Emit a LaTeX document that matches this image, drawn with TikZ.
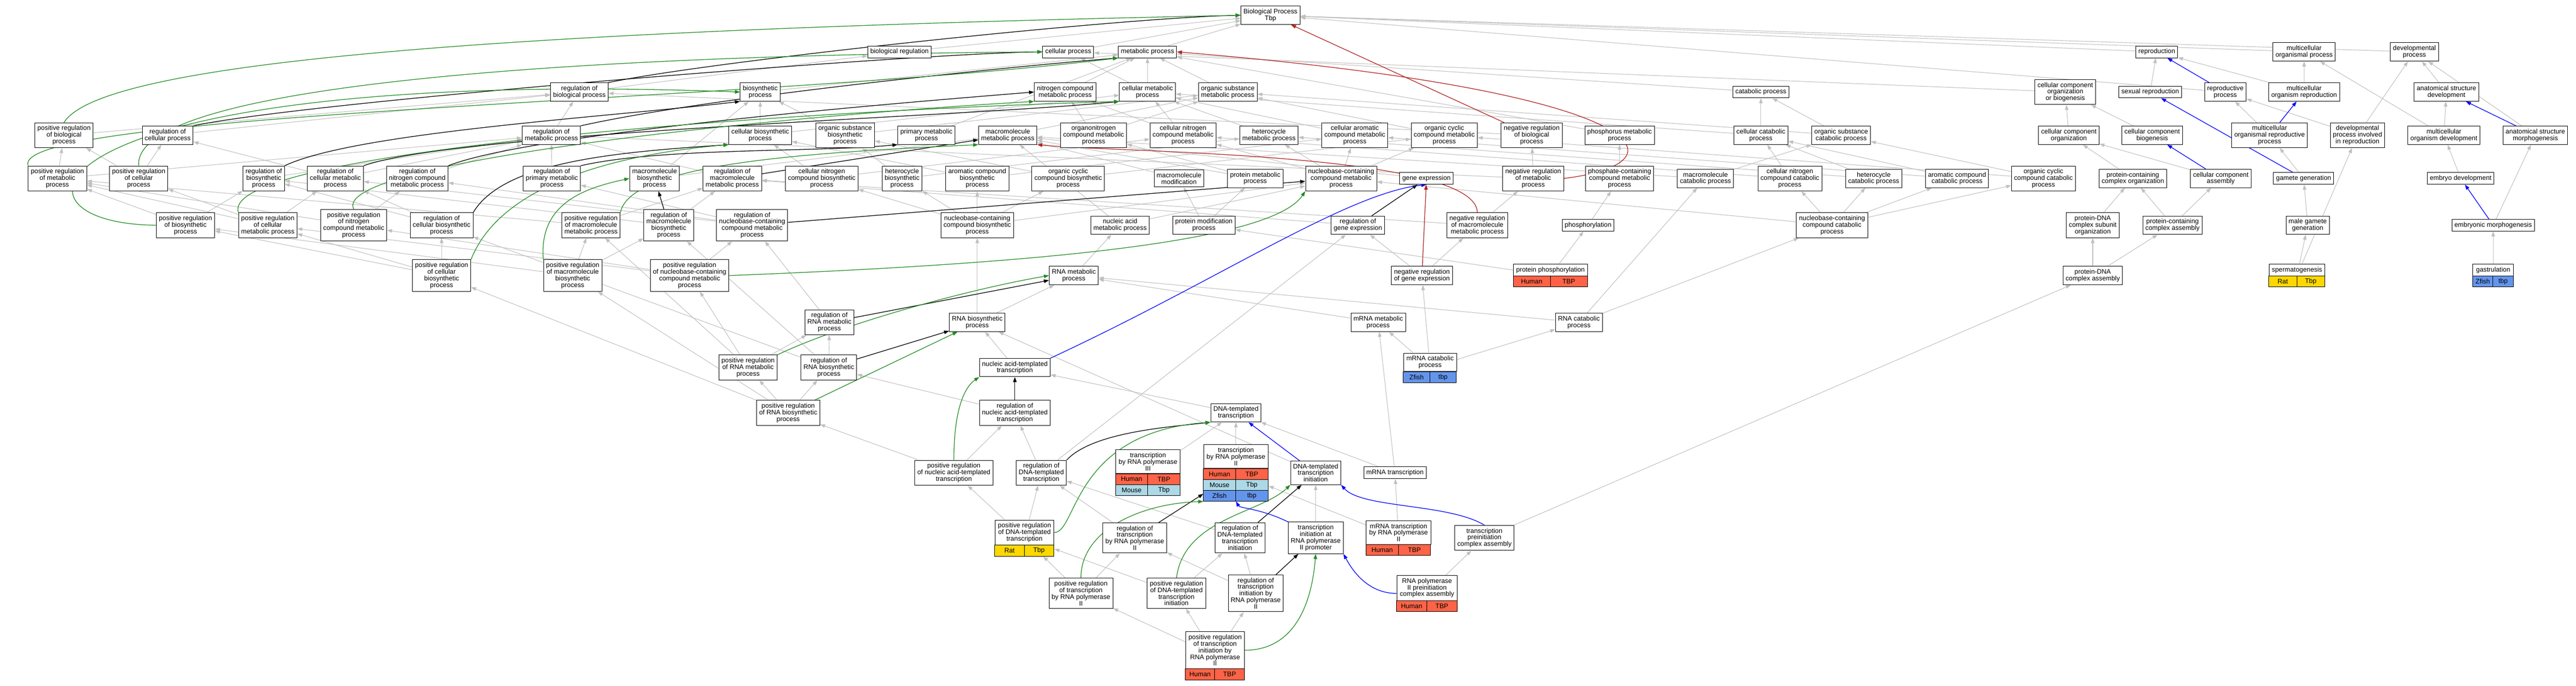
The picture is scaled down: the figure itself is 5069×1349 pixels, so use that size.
\documentclass[tikz,border=0pt]{standalone}
\usepackage{fontspec}
\setmainfont{Liberation Sans}
\usetikzlibrary{arrows.meta,fit}
\definecolor{humcol}{HTML}{FF6347}
\definecolor{moucol}{HTML}{ADD8E6}
\definecolor{zfcol}{HTML}{6495ED}
\definecolor{ratcol}{HTML}{FFD700}
\definecolor{isacol}{HTML}{C0C0C0}
\definecolor{poscol}{HTML}{228B22}
\definecolor{negcol}{HTML}{B22222}
\definecolor{partcol}{HTML}{0000FF}
\pgfdeclarelayer{background}
\pgfsetlayers{background,main}

\begin{document}
\begin{tikzpicture}[x=1pt,y=-1pt,
		box/.style={draw,fill=white,line width=1pt,align=center,inner xsep=5pt,inner ysep=5.5pt,font=\fontsize{13}{13}\selectfont},
		cell/.style={draw,line width=1pt,inner sep=1pt,outer sep=0pt,minimum height=21.5pt,anchor=north west,font=\fontsize{13}{13}\selectfont},
		group/.style={inner sep=0pt},
		isa/.style={draw=isacol,line width=1.1pt,-{Triangle[length=10pt,width=7pt]}},
		regl/.style={draw=black,line width=1.3pt,-{Triangle[length=10pt,width=7pt]}},
		posr/.style={draw=poscol,line width=1.3pt,-{Triangle[length=10pt,width=7pt]}},
		negr/.style={draw=negcol,line width=1.3pt,-{Triangle[length=10pt,width=7pt]}},
		partof/.style={draw=partcol,line width=1.3pt,-{Triangle[length=10pt,width=7pt]}}
		]
		\useasboundingbox (0,0) rectangle (5069,1349);

		\node[box] (bp) at (2500,30) {Biological Process\\Tbp};

		\node[box] (breg) at (1770,102) {biological regulation};
		\node[box] (cellp) at (2102,102) {cellular process};
		\node[box] (metp) at (2258,102) {metabolic process};
		\node[box] (repro) at (4244,102) {reproduction};
		\node[box] (mcop) at (4534,102) {multicellular\\organismal process};
		\node[box] (devp) at (4751,102) {developmental\\process};

		\node[box] (regbp) at (1140,181) {regulation of\\biological process};
		\node[box] (biosyn) at (1496,181) {biosynthetic\\process};
		\node[box] (ncmp) at (2096,181) {nitrogen compound\\metabolic process};
		\node[box] (cmp) at (2258,181) {cellular metabolic\\process};
		\node[box] (osmp) at (2416,181) {organic substance\\metabolic process};
		\node[box] (catp) at (3465,181) {catabolic process};
		\node[box] (ccob) at (4064,181) {cellular component\\organization\\or biogenesis};
		\node[box] (sexrep) at (4231,181) {sexual reproduction};
		\node[box] (repp) at (4379,181) {reproductive\\process};
		\node[box] (mcorep) at (4534,181) {multicellular\\organism reproduction};
		\node[box] (asdev) at (4814,181) {anatomical structure\\development};

		\node[box] (prbp) at (126,266) {positive regulation\\of biological\\process};
		\node[box] (regcp) at (330,266) {regulation of\\cellular process};
		\node[box] (regmp) at (1085,266) {regulation of\\metabolic process};
		\node[box] (cbp) at (1496,266) {cellular biosynthetic\\process};
		\node[box] (osbp) at (1663,266) {organic substance\\biosynthetic\\process};
		\node[box] (pmp) at (1823,266) {primary metabolic\\process};
		\node[box] (mmp) at (1983,266) {macromolecule\\metabolic process};
		\node[box] (oncmp) at (2152,266) {organonitrogen\\compound metabolic\\process};
		\node[box] (cncmp) at (2328,266) {cellular nitrogen\\compound metabolic\\process};
		\node[box] (hmp) at (2497,266) {heterocycle\\metabolic process};
		\node[box] (camp) at (2666,266) {cellular aromatic\\compound metabolic\\process};
		\node[box] (occmp) at (2842,266) {organic cyclic\\compound metabolic\\process};
		\node[box] (nrbp) at (3014,266) {negative regulation\\of biological\\process};
		\node[box] (phmp) at (3187,266) {phosphorus metabolic\\process};
		\node[box] (ccatp) at (3465,266) {cellular catabolic\\process};
		\node[box] (oscp) at (3623,266) {organic substance\\catabolic process};
		\node[box] (cco) at (4071,266) {cellular component\\organization};
		\node[box] (ccb) at (4235,266) {cellular component\\biogenesis};
		\node[box] (mcrp) at (4466,266) {multicellular\\organismal reproductive\\process};
		\node[box] (dpir) at (4639,266) {developmental\\process involved\\in reproduction};
		\node[box] (mcod) at (4809,266) {multicellular\\organism development};
		\node[box] (asm) at (4989,266) {anatomical structure\\morphogenesis};

		\node[box] (prmp) at (113,351) {positive regulation\\of metabolic\\process};
		\node[box] (prcp) at (273,351) {positive regulation\\of cellular\\process};
		\node[box] (regbsp) at (519,351) {regulation of\\biosynthetic\\process};
		\node[box] (regcmp) at (660,351) {regulation of\\cellular metabolic\\process};
		\node[box] (regncmp) at (821,351) {regulation of\\nitrogen compound\\metabolic process};
		\node[box] (regpmp) at (1086,351) {regulation of\\primary metabolic\\process};
		\node[box] (mbp) at (1288,351) {macromolecule\\biosynthetic\\process};
		\node[box] (regmmp) at (1441,351) {regulation of\\macromolecule\\metabolic process};
		\node[box] (cncbp) at (1617,351) {cellular nitrogen\\compound biosynthetic\\process};
		\node[box] (hbp) at (1775,351) {heterocycle\\biosynthetic\\process};
		\node[box] (acbp) at (1923,351) {aromatic compound\\biosynthetic\\process};
		\node[box] (occbp) at (2102,351) {organic cyclic\\compound biosynthetic\\process};
		\node[box] (mmod) at (2320,351) {macromolecule\\modification};
		\node[box] (protmp) at (2470,351) {protein metabolic\\process};
		\node[box] (nbcmp) at (2639,351) {nucleobase-containing\\compound metabolic\\process};
		\node[box] (genex) at (2807,351) {gene expression};
		\node[box] (nrmp) at (3017,351) {negative regulation\\of metabolic\\process};
		\node[box] (pccmp) at (3187,351) {phosphate-containing\\compound metabolic\\process};
		\node[box] (mcatp) at (3356,351) {macromolecule\\catabolic process};
		\node[box] (cnccp) at (3522,351) {cellular nitrogen\\compound catabolic\\process};
		\node[box] (hcatp) at (3687,351) {heterocycle\\catabolic process};
		\node[box] (accp) at (3851,351) {aromatic compound\\catabolic process};
		\node[box] (occcp) at (4021,351) {organic cyclic\\compound catabolic\\process};
		\node[box] (pcco) at (4197,351) {protein-containing\\complex organization};
		\node[box] (cca) at (4370,351) {cellular component\\assembly};
		\node[box] (gamgen) at (4533,351) {gamete generation};
		\node[box] (embdev) at (4842,351) {embryo development};

		\node[box] (prbsp) at (365,443) {positive regulation\\of biosynthetic\\process};
		\node[box] (prcmp) at (527,443) {positive regulation\\of cellular\\metabolic process};
		\node[box] (prncmp) at (696,443) {positive regulation\\of nitrogen\\compound metabolic\\process};
		\node[box] (regcbp) at (869,443) {regulation of\\cellular biosynthetic\\process};
		\node[box] (prmmp) at (1163,443) {positive regulation\\of macromolecule\\metabolic process};
		\node[box] (regmbp) at (1316,443) {regulation of\\macromolecule\\biosynthetic\\process};
		\node[box] (regnbmp) at (1480,443) {regulation of\\nucleobase-containing\\compound metabolic\\process};
		\node[box] (nbcbp) at (1923,443) {nucleobase-containing\\compound biosynthetic\\process};
		\node[box] (namp) at (2204,443) {nucleic acid\\metabolic process};
		\node[box] (pmodp) at (2369,443) {protein modification\\process};
		\node[box] (reggex) at (2672,443) {regulation of\\gene expression};
		\node[box] (nrmmp) at (2907,443) {negative regulation\\of macromolecule\\metabolic process};
		\node[box] (phos) at (3125,443) {phosphorylation};
		\node[box] (nbccp) at (3605,443) {nucleobase-containing\\compound catabolic\\process};
		\node[box] (pdnaso) at (4118,443) {protein-DNA\\complex subunit\\organization};
		\node[box] (pcca) at (4275,443) {protein-containing\\complex assembly};
		\node[box] (mgg) at (4541,443) {male gamete\\generation};
		\node[box] (embmor) at (4906,443) {embryonic morphogenesis};

		\node[box] (prcbp) at (869,542) {positive regulation\\of cellular\\biosynthetic\\process};
		\node[box] (prmbp) at (1127,542) {positive regulation\\of macromolecule\\biosynthetic\\process};
		\node[box] (prnbmp) at (1357,542) {positive regulation\\of nucleobase-containing\\compound metabolic\\process};
		\node[box] (rnamp) at (2113,542) {RNA metabolic\\process};
		\node[box] (nrgex) at (2798,542) {negative regulation\\of gene expression};
		\node[box,minimum width=146pt] (protphosh) at (3051,531) {protein phosphorylation};
		\node[cell,fill=humcol,minimum width=73pt] (protphosa) at (protphosh.south west) {Human};
		\node[cell,fill=humcol,minimum width=73pt] (protphosb) at (protphosa.north east) {TBP};
		\node[group,fit=(protphosh)(protphosa)(protphosb)] (protphos) {};
		\node[box] (pdnaca) at (4118,542) {protein-DNA\\complex assembly};
		\node[box,minimum width=110pt] (spermh) at (4520,531) {spermatogenesis};
		\node[cell,fill=ratcol,minimum width=55pt] (sperma) at (spermh.south west) {Rat};
		\node[cell,fill=ratcol,minimum width=55pt] (spermb) at (sperma.north east) {Tbp};
		\node[group,fit=(spermh)(sperma)(spermb)] (sperm) {};
		\node[box,minimum width=80pt] (gastrh) at (4906,531) {gastrulation};
		\node[cell,fill=zfcol,minimum width=40pt] (gastra) at (gastrh.south west) {Zfish};
		\node[cell,fill=zfcol,minimum width=40pt] (gastrb) at (gastra.north east) {tbp};
		\node[group,fit=(gastrh)(gastra)(gastrb)] (gastr) {};

		\node[box] (regrnamp) at (1632,634) {regulation of\\RNA metabolic\\process};
		\node[box] (rnabp) at (1923,634) {RNA biosynthetic\\process};
		\node[box] (mrnamp) at (2712,634) {mRNA metabolic\\process};
		\node[box] (rnacat) at (3107,634) {RNA catabolic\\process};

		\node[box] (prrnamp) at (1472,723) {positive regulation\\of RNA metabolic\\process};
		\node[box] (regrnabp) at (1631,723) {regulation of\\RNA biosynthetic\\process};
		\node[box] (natt) at (1997,723) {nucleic acid-templated\\transcription};
		\node[box,minimum width=104pt] (mrnacath) at (2814,712.5) {mRNA catabolic\\process};
		\node[cell,fill=zfcol,minimum width=52pt] (mrnacata) at (mrnacath.south west) {Zfish};
		\node[cell,fill=zfcol,minimum width=52pt] (mrnacatb) at (mrnacata.north east) {tbp};
		\node[group,fit=(mrnacath)(mrnacata)(mrnacatb)] (mrnacat) {};

		\node[box] (prrnabp) at (1551,812) {positive regulation\\of RNA biosynthetic\\process};
		\node[box] (regnatt) at (1997,812) {regulation of\\nucleic acid-templated\\transcription};
		\node[box] (dnatt) at (2432,812) {DNA-templated\\transcription};

		\node[box] (prnatt) at (1877,930) {positive regulation\\of nucleic acid-templated\\transcription};
		\node[box] (regdnatt) at (2049,930) {regulation of\\DNA-templated\\transcription};
		\node[box,minimum width=127pt] (tpol3h) at (2259,908) {transcription\\by RNA polymerase\\III};
		\node[cell,fill=humcol,minimum width=63.5pt] (tpol3a) at (tpol3h.south west) {Human};
		\node[cell,fill=humcol,minimum width=63.5pt] (tpol3b) at (tpol3a.north east) {TBP};
		\node[cell,fill=moucol,minimum width=63.5pt] (tpol3c) at (tpol3a.south west) {Mouse};
		\node[cell,fill=moucol,minimum width=63.5pt] (tpol3d) at (tpol3c.north east) {Tbp};
		\node[group,fit=(tpol3h)(tpol3c)(tpol3d)] (tpol3) {};
		\node[box,minimum width=127pt] (tpol2h) at (2432,898) {transcription\\by RNA polymerase\\II};
		\node[cell,fill=humcol,minimum width=63.5pt] (tpol2a) at (tpol2h.south west) {Human};
		\node[cell,fill=humcol,minimum width=63.5pt] (tpol2b) at (tpol2a.north east) {TBP};
		\node[cell,fill=moucol,minimum width=63.5pt] (tpol2c) at (tpol2a.south west) {Mouse};
		\node[cell,fill=moucol,minimum width=63.5pt] (tpol2d) at (tpol2c.north east) {Tbp};
		\node[cell,fill=zfcol,minimum width=63.5pt] (tpol2e) at (tpol2c.south west) {Zfish};
		\node[cell,fill=zfcol,minimum width=63.5pt] (tpol2f) at (tpol2e.north east) {tbp};
		\node[group,fit=(tpol2h)(tpol2e)(tpol2f)] (tpol2) {};
		\node[box] (dnatti) at (2589,930) {DNA-templated\\transcription\\initiation};
		\node[box] (mrnat) at (2745,930) {mRNA transcription};

		\node[box,minimum width=116pt] (prdnatth) at (2016,1047.5) {positive regulation\\of DNA-templated\\transcription};
		\node[cell,fill=ratcol,minimum width=58pt] (prdnatta) at (prdnatth.south west) {Rat};
		\node[cell,fill=ratcol,minimum width=58pt] (prdnattb) at (prdnatta.north east) {Tbp};
		\node[group,fit=(prdnatth)(prdnatta)(prdnattb)] (prdnatt) {};
		\node[box] (regtpol2) at (2233,1058) {regulation of\\transcription\\by RNA polymerase\\II};
		\node[box] (regdnatti) at (2440,1058) {regulation of\\DNA-templated\\transcription\\initiation};
		\node[box] (tiapol2) at (2589,1058) {transcription\\initiation at\\RNA polymerase\\II promoter};
		\node[box,minimum width=127pt] (mrnatpol2h) at (2752,1047.5) {mRNA transcription\\by RNA polymerase\\II};
		\node[cell,fill=humcol,minimum width=63.5pt] (mrnatpol2a) at (mrnatpol2h.south west) {Human};
		\node[cell,fill=humcol,minimum width=63.5pt] (mrnatpol2b) at (mrnatpol2a.north east) {TBP};
		\node[group,fit=(mrnatpol2h)(mrnatpol2a)(mrnatpol2b)] (mrnatpol2) {};
		\node[box] (tpica) at (2921,1058) {transcription\\preinitiation\\complex assembly};

		\node[box] (prtpol2) at (2127,1167) {positive regulation\\of transcription\\by RNA polymerase\\II};
		\node[box] (prdnatti) at (2315,1167) {positive regulation\\of DNA-templated\\transcription\\initiation};
		\node[box] (regtipol2) at (2471,1167) {regulation of\\transcription\\initiation by\\RNA polymerase\\II};
		\node[box,minimum width=119pt] (pol2picah) at (2808,1156.5) {RNA polymerase\\II preinitiation\\complex assembly};
		\node[cell,fill=humcol,minimum width=59.5pt] (pol2picaa) at (pol2picah.south west) {Human};
		\node[cell,fill=humcol,minimum width=59.5pt] (pol2picab) at (pol2picaa.north east) {TBP};
		\node[group,fit=(pol2picah)(pol2picaa)(pol2picab)] (pol2pica) {};

		\node[box,minimum width=116pt] (prtipol2h) at (2391,1279) {positive regulation\\of transcription\\initiation by\\RNA polymerase\\II};
		\node[cell,fill=humcol,minimum width=58pt] (prtipol2a) at (prtipol2h.south west) {Human};
		\node[cell,fill=humcol,minimum width=58pt] (prtipol2b) at (prtipol2a.north east) {TBP};
		\node[group,fit=(prtipol2h)(prtipol2a)(prtipol2b)] (prtipol2) {};

		\begin{pgfonlayer}{background}
		\draw[isa] (breg) -- (bp); \draw[isa] (cellp) -- (bp); \draw[isa] (metp) -- (bp);
		\draw[isa] (repro) -- (bp); \draw[isa] (mcop) -- (bp); \draw[isa] (devp) -- (bp);
		\draw[isa] (repp) -- (bp); \draw[isa] (regbp) -- (breg);
		\draw[isa] (biosyn) -- (metp); \draw[isa] (ncmp) -- (metp); \draw[isa] (cmp) -- (metp);
		\draw[isa] (cmp) -- (cellp); \draw[isa] (osmp) -- (metp); \draw[isa] (catp) -- (metp);
		\draw[isa] (phmp) -- (metp); \draw[isa] (pmp) -- (metp); \draw[isa] (ccob) -- (cellp);
		\draw[isa] (sexrep) -- (repro); \draw[isa] (mcorep) -- (repro); \draw[isa] (mcorep) -- (mcop);
		\draw[isa] (asdev) -- (devp);
		\draw[isa] (prbp) -- (regbp); \draw[isa] (regcp) -- (regbp); \draw[isa] (regmp) -- (regbp);
		\draw[isa] (nrbp) -- (regbp);
		\draw[isa] (cbp) -- (biosyn); \draw[isa] (cbp) -- (cmp); \draw[isa] (osbp) -- (biosyn);
		\draw[isa] (osbp) -- (osmp); \draw[isa] (mmp) -- (osmp); \draw[isa] (oncmp) -- (ncmp);
		\draw[isa] (oncmp) -- (osmp); \draw[isa] (cncmp) -- (ncmp); \draw[isa] (cncmp) -- (cmp);
		\draw[isa] (hmp) -- (cmp); \draw[isa] (camp) -- (cmp); \draw[isa] (occmp) -- (osmp);
		\draw[isa] (ccatp) -- (catp); \draw[isa] (ccatp) -- (cmp); \draw[isa] (oscp) -- (catp);
		\draw[isa] (oscp) -- (osmp);
		\draw[isa] (cco) -- (ccob); \draw[isa] (ccb) -- (ccob); \draw[isa] (mcrp) -- (repp);
		\draw[isa] (dpir) -- (repp); \draw[isa] (dpir) -- (devp); \draw[isa] (mcod) -- (mcop);
		\draw[isa] (mcod) -- (asdev); \draw[isa] (asm) -- (devp);
		\draw[isa] (prmp) -- (regmp); \draw[isa] (prmp) -- (prbp); \draw[isa] (prcp) -- (regcp);
		\draw[isa] (prcp) -- (prbp); \draw[isa] (regbsp) -- (regmp); \draw[isa] (regcmp) -- (regmp);
		\draw[isa] (regcmp) -- (regcp); \draw[isa] (regncmp) -- (regmp); \draw[isa] (regpmp) -- (regmp);
		\draw[isa] (regmmp) -- (regmp); \draw[isa] (nrmp) -- (regmp); \draw[isa] (nrmp) -- (nrbp);
		\draw[isa] (mbp) -- (mmp); \draw[isa] (mbp) -- (biosyn);
		\draw[isa] (cncbp) -- (cncmp); \draw[isa] (cncbp) -- (cbp); \draw[isa] (hbp) -- (hmp);
		\draw[isa] (hbp) -- (osbp); \draw[isa] (acbp) -- (camp); \draw[isa] (acbp) -- (cbp);
		\draw[isa] (occbp) -- (occmp); \draw[isa] (occbp) -- (osbp);
		\draw[isa] (mmod) -- (mmp); \draw[isa] (protmp) -- (mmp); \draw[isa] (protmp) -- (oncmp);
		\draw[isa] (nbcmp) -- (cncmp); \draw[isa] (nbcmp) -- (hmp); \draw[isa] (nbcmp) -- (camp);
		\draw[isa] (nbcmp) -- (occmp); \draw[isa] (genex) -- (mmp); \draw[isa] (pccmp) -- (phmp);
		\draw[isa] (mcatp) -- (mmp); \draw[isa] (mcatp) -- (oscp); \draw[isa] (cnccp) -- (ccatp);
		\draw[isa] (cnccp) -- (cncmp); \draw[isa] (hcatp) -- (ccatp); \draw[isa] (hcatp) -- (hmp);
		\draw[isa] (accp) -- (ccatp); \draw[isa] (accp) -- (camp); \draw[isa] (occcp) -- (oscp);
		\draw[isa] (occcp) -- (occmp);
		\draw[isa] (pcco) -- (cco); \draw[isa] (cca) -- (cco); \draw[isa] (gamgen) -- (mcrp);
		\draw[isa] (embdev) -- (mcod);
		\draw[isa] (prbsp) -- (regbsp); \draw[isa] (prbsp) -- (prmp); \draw[isa] (prcmp) -- (regcmp);
		\draw[isa] (prcmp) -- (prmp); \draw[isa] (prcmp) -- (prcp); \draw[isa] (prncmp) -- (regncmp);
		\draw[isa] (prncmp) -- (prmp); \draw[isa] (regcbp) -- (regbsp); \draw[isa] (regcbp) -- (regcmp);
		\draw[isa] (prmmp) -- (regmmp); \draw[isa] (prmmp) -- (prmp); \draw[isa] (regmbp) -- (regmmp);
		\draw[isa] (regmbp) -- (regbsp); \draw[isa] (regnbmp) -- (regcmp); \draw[isa] (regnbmp) -- (regncmp);
		\draw[isa] (regnbmp) -- (regpmp);
		\draw[isa] (nbcbp) -- (nbcmp); \draw[isa] (nbcbp) -- (cncbp); \draw[isa] (nbcbp) -- (hbp);
		\draw[isa] (nbcbp) -- (acbp); \draw[isa] (nbcbp) -- (occbp);
		\draw[isa] (namp) -- (nbcmp); \draw[isa] (namp) -- (mmp); \draw[isa] (pmodp) -- (mmod);
		\draw[isa] (pmodp) -- (protmp); \draw[isa] (reggex) -- (regmmp); \draw[isa] (nrmmp) -- (regmmp);
		\draw[isa] (nrmmp) -- (nrmp); \draw[isa] (phos) -- (pccmp);
		\draw[isa] (nbccp) -- (nbcmp); \draw[isa] (nbccp) -- (cnccp); \draw[isa] (nbccp) -- (hcatp);
		\draw[isa] (nbccp) -- (accp); \draw[isa] (nbccp) -- (occcp);
		\draw[isa] (pdnaso) -- (pcco); \draw[isa] (pcca) -- (pcco); \draw[isa] (pcca) -- (cca);
		\draw[isa] (mgg) -- (gamgen); \draw[isa] (embmor) -- (asm);
		\draw[isa] (prcbp) -- (regcbp); \draw[isa] (prcbp) -- (prbsp); \draw[isa] (prcbp) -- (prcmp);
		\draw[isa] (prmbp) -- (prmmp); \draw[isa] (prmbp) -- (regmbp); \draw[isa] (prmbp) -- (prbsp);
		\draw[isa] (prnbmp) -- (regnbmp); \draw[isa] (prnbmp) -- (prcmp); \draw[isa] (prnbmp) -- (prncmp);
		\draw[isa] (rnamp) -- (namp); \draw[isa] (nrgex) -- (reggex); \draw[isa] (nrgex) -- (nrmmp);
		\draw[isa] (protphos) -- (phos); \draw[isa] (protphos) -- (pmodp);
		\draw[isa] (pdnaca) -- (pdnaso); \draw[isa] (pdnaca) -- (pcca);
		\draw[isa] (sperm) -- (mgg); \draw[isa] (sperm) -- (dpir); \draw[isa] (gastr) -- (embmor);
		\draw[isa] (regrnamp) -- (regnbmp); \draw[isa] (rnabp) -- (rnamp); \draw[isa] (rnabp) -- (nbcbp);
		\draw[isa] (mrnamp) -- (rnamp); \draw[isa] (rnacat) -- (rnamp); \draw[isa] (rnacat) -- (nbccp);
		\draw[isa] (rnacat) -- (mcatp);
		\draw[isa] (prrnamp) -- (regrnamp); \draw[isa] (prrnamp) -- (prnbmp); \draw[isa] (prrnamp) -- (prmmp);
		\draw[isa] (regrnabp) -- (regrnamp); \draw[isa] (regrnabp) -- (regmbp); \draw[isa] (regrnabp) -- (regcbp);
		\draw[isa] (natt) -- (rnabp); \draw[isa] (mrnacat) -- (mrnamp); \draw[isa] (mrnacat) -- (rnacat);
		\draw[isa] (mrnacat) -- (nrgex);
		\draw[isa] (prrnabp) -- (prrnamp); \draw[isa] (prrnabp) -- (regrnabp); \draw[isa] (prrnabp) -- (prmbp);
		\draw[isa] (prrnabp) -- (prcbp); \draw[isa] (regnatt) -- (regrnabp); \draw[isa] (dnatt) -- (natt);
		\draw[isa] (prnatt) -- (regnatt); \draw[isa] (prnatt) -- (prrnabp); \draw[isa] (regdnatt) -- (regnatt);
		\draw[isa] (regdnatt) -- (reggex); \draw[isa] (tpol3) -- (dnatt); \draw[isa] (tpol2) -- (dnatt);
		\draw[isa] (dnatti) -- (rnabp); \draw[isa] (mrnat) -- (dnatt); \draw[isa] (mrnat) -- (mrnamp);
		\draw[isa] (prdnatt) -- (regdnatt); \draw[isa] (prdnatt) -- (prnatt); \draw[isa] (regtpol2) -- (regdnatt);
		\draw[isa] (regdnatti) -- (regdnatt); \draw[isa] (tiapol2) -- (dnatti); \draw[isa] (mrnatpol2) -- (mrnat);
		\draw[isa] (mrnatpol2) -- (tpol2); \draw[isa] (tpica) -- (pdnaca);
		\draw[isa] (prtpol2) -- (regtpol2); \draw[isa] (prtpol2) -- (prdnatt); \draw[isa] (prdnatti) -- (regdnatti);
		\draw[isa] (prdnatti) -- (prdnatt); \draw[isa] (regtipol2) -- (regdnatti); \draw[isa] (regtipol2) -- (regtpol2);
		\draw[isa] (pol2pica) -- (tpica);
		\draw[isa] (prtipol2) -- (regtipol2); \draw[isa] (prtipol2) -- (prtpol2); \draw[isa] (prtipol2) -- (prdnatti);

		\draw[regl] (regbp.north east) .. controls (1400,120) and (2200,35) .. (bp.west);
		\draw[regl] (regcp.north east) .. controls (600,200) and (1800,105) .. (cellp.west);
		\draw[regl] (regmp.north east) .. controls (1400,190) and (2000,130) .. (metp.south west);
		\draw[regl] (regcmp.north east) .. controls (900,260) and (1900,230) .. (cmp.south west);
		\draw[regl] (regncmp.north east) .. controls (1050,260) and (1800,200) .. (ncmp.west);
		\draw[regl] (regbsp.north east) .. controls (700,260) and (1200,230) .. (biosyn.south west);
		\draw[regl] (regpmp.north east) .. controls (1300,290) and (1600,300) .. (pmp.south west);
		\draw[regl] (regcbp.north east) .. controls (990,320) and (1200,300) .. (cbp.south west);
		\draw[regl] (regdnatt.north east) .. controls (2150,850) and (2300,840) .. (dnatt.south west);
		\draw[regl] (regmmp) -- (mmp); \draw[regl] (regmbp) -- (mbp); \draw[regl] (regnbmp) -- (nbcmp);
		\draw[regl] (reggex) -- (genex); \draw[regl] (regrnamp) -- (rnamp); \draw[regl] (regrnabp) -- (rnabp);
		\draw[regl] (regnatt) -- (natt); \draw[regl] (regtpol2) -- (tpol2); \draw[regl] (regdnatti) -- (dnatti);
		\draw[regl] (regtipol2) -- (tiapol2);

		\draw[posr] (prbp.north) .. controls (200,120) and (1000,60) .. (bp.west);
		\draw[posr] (prcp.north) .. controls (260,180) and (1000,110) .. (cellp.west);
		\draw[posr] (prmp.north west) .. controls (20,220) and (1500,200) .. (metp.south west);
		\draw[posr] (prbsp.west) .. controls (-30,440) and (60,130) .. (biosyn.west);
		\draw[posr] (prcmp.north west) .. controls (430,300) and (1500,220) .. (cmp.south west);
		\draw[posr] (prncmp.north) .. controls (650,320) and (1500,230) .. (ncmp.south west);
		\draw[posr] (prcbp.north east) .. controls (990,350) and (1250,300) .. (cbp.south west);
		\draw[posr] (prmmp.north east) .. controls (1240,320) and (1600,300) .. (mmp.south west);
		\draw[posr] (prmbp.north west) .. controls (1060,400) and (1150,370) .. (mbp.west);
		\draw[posr] (prnbmp.east) .. controls (2000,520) and (2500,480) .. (nbcmp.south west);
		\draw[posr] (prrnamp.north east) .. controls (1650,640) and (1900,570) .. (rnamp.west);
		\draw[posr] (prrnabp) -- (rnabp);
		\draw[posr] (prnatt.north) .. controls (1877,800) and (1900,760) .. (natt.south west);
		\draw[posr] (prdnatth.east) .. controls (2120,1047) and (2110,850) .. (dnatt.south west);
		\draw[posr] (prtpol2.north) .. controls (2127,1040) and (2250,990) .. (tpol2.south west);
		\draw[posr] (prdnatti.north) .. controls (2330,1020) and (2480,1010) .. (dnatti.south west);
		\draw[posr] (prtipol2h.east) .. controls (2540,1279) and (2580,1200) .. (tiapol2.south);

		\draw[negr] (nrbp) -- (bp);
		\draw[negr] (nrmp.east) .. controls (3330,320) and (3260,180) .. (metp.east);
		\draw[negr] (nrmmp.north) .. controls (2905,300) and (2200,300) .. (mmp.south east);
		\draw[negr] (nrgex) -- (genex);

		\draw[partof] (natt.north east) .. controls (2400,550) and (2650,380) .. (genex.south);
		\draw[partof] (dnatti) -- (dnatt);
		\draw[partof] (tiapol2.north west) .. controls (2480,1000) and (2440,1000) .. (tpol2.south);
		\draw[partof] (pol2pica.west) .. controls (2690,1167) and (2660,1120) .. (tiapol2.south east);
		\draw[partof] (tpica.north) .. controls (2850,990) and (2680,1000) .. (dnatti.south east);
		\draw[partof] (repp) -- (repro); \draw[partof] (gamgen) -- (sexrep); \draw[partof] (mcrp) -- (mcorep);
		\draw[partof] (cca) -- (ccb); \draw[partof] (asm) -- (asdev); \draw[partof] (embmor) -- (embdev);
		\end{pgfonlayer}
\end{tikzpicture}
\end{document}
